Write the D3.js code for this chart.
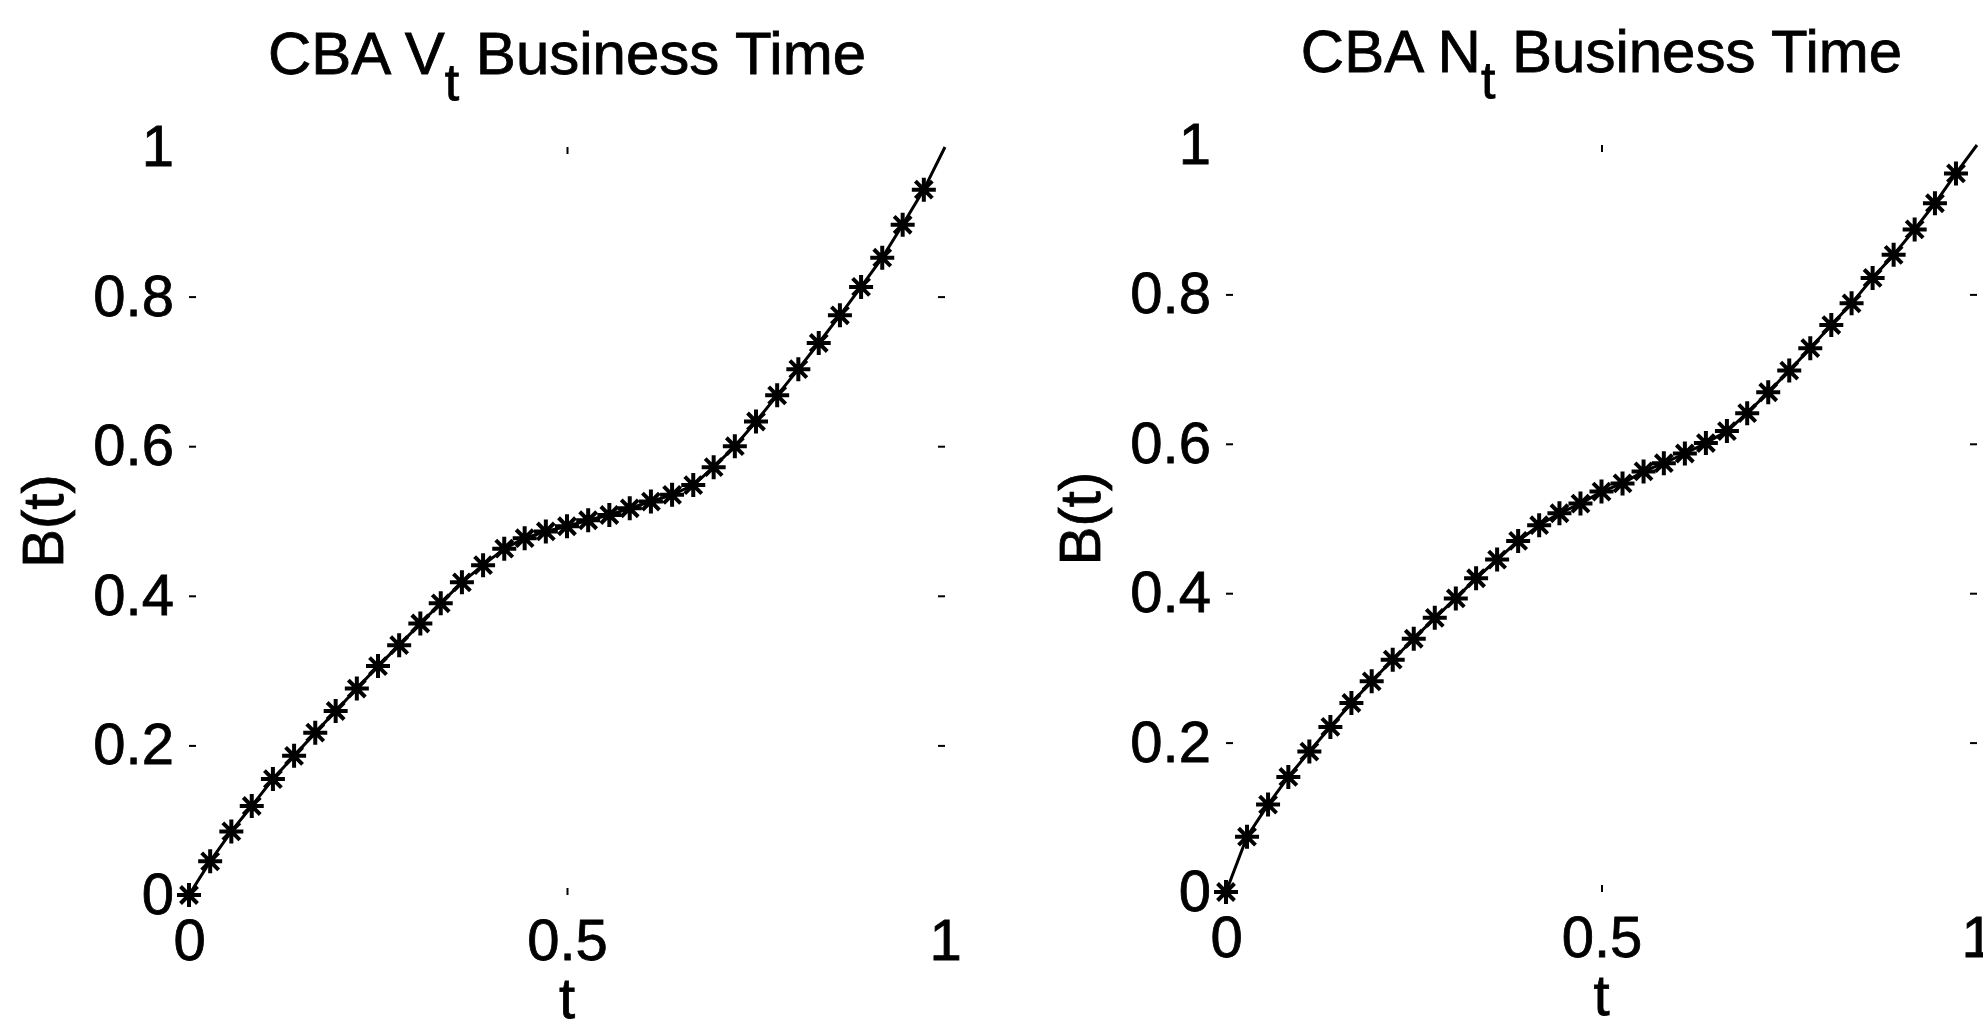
<!DOCTYPE html>
<html>
<head>
<meta charset="utf-8">
<script src="https://d3js.org/d3.v7.min.js"></script>
<style>
body {margin: 0; background: #fff;}
text {font-family: "Liberation Sans", Arial, sans-serif; fill: #000; stroke: #000; stroke-width: 0.8px;}
</style>
</head>
<body>
<svg id="chart"></svg>
<script>
var screen = {width: 1983, height: 1027};

// sample times of the two curves
var tValues = [0, 0.028, 0.056, 0.083, 0.111, 0.139, 0.167, 0.194, 0.222, 0.25,
               0.278, 0.306, 0.333, 0.361, 0.389, 0.417, 0.444, 0.472, 0.5, 0.528,
               0.556, 0.583, 0.611, 0.639, 0.667, 0.694, 0.722, 0.75, 0.778, 0.806,
               0.833, 0.861, 0.889, 0.917, 0.944, 0.972, 1];

// business time from volume (left panel)
var volumeB = [0, 0.045, 0.085, 0.119, 0.155, 0.186, 0.217, 0.246, 0.276, 0.306,
               0.334, 0.363, 0.390, 0.418, 0.441, 0.463, 0.477, 0.486, 0.493, 0.501,
               0.508, 0.517, 0.526, 0.535, 0.548, 0.572, 0.600, 0.633, 0.668, 0.703,
               0.738, 0.775, 0.813, 0.852, 0.896, 0.943, 1];

// business time from number of trades (right panel)
var tradesB = [0, 0.074, 0.117, 0.154, 0.188, 0.221, 0.253, 0.282, 0.311, 0.339,
               0.367, 0.393, 0.420, 0.445, 0.470, 0.491, 0.507, 0.520, 0.536, 0.547,
               0.563, 0.574, 0.587, 0.601, 0.617, 0.641, 0.669, 0.698, 0.728, 0.759,
               0.788, 0.822, 0.853, 0.887, 0.922, 0.962, 1];

var xTicks = [0, 0.5, 1];
var yTicks = [0, 0.2, 0.4, 0.6, 0.8, 1];

var titleNames = ["CBA V", "CBA N"];

// where each axes sits on the page
var panels = [
    {left: 189, right: 945, top: 147, bottom: 895},
    {left: 1226, right: 1977, top: 145, bottom: 892}
];

// matlab style '*' marker: a plus and a cross on top of each other
var asterisk = {
    draw: function(context, size) {
        var r = Math.sqrt(size) / 2;
        var d = r * Math.SQRT1_2;
        context.moveTo(-r, 0); context.lineTo(r, 0);
        context.moveTo(0, -r); context.lineTo(0, r);
        context.moveTo(-d, -d); context.lineTo(d, d);
        context.moveTo(-d, d); context.lineTo(d, -d);
    }
};

var svg = d3.select("#chart")
    .attr("width", screen.width)
    .attr("height", screen.height);

var styleAxis = function(g)
{
    g.select(".domain").remove();
    g.selectAll(".tick line")
        .attr("stroke", "#000")
        .attr("stroke-width", 2);
    // the corner ticks do not show in the scan
    g.selectAll(".tick")
        .filter(function(d) { return d === 0 || d === 1; })
        .select("line")
        .remove();
    g.attr("font-family", null)
        .attr("font-size", null);
    g.selectAll(".tick text")
        .style("font-size", "58px")
        .attr("fill", "#000");
};

var drawPanel = function(panel, title, values)
{
    var width = panel.right - panel.left;
    var height = panel.bottom - panel.top;

    var g = svg.append("g")
        .attr("transform", "translate(" + panel.left + "," + panel.top + ")");

    var xScale = d3.scaleLinear()
                    .domain([0, 1])
                    .range([0, width]);

    var yScale = d3.scaleLinear()
                    .domain([0, 1])
                    .range([height, 0]);

    var fmt = d3.format("~g");

    // labelled axes, ticks point inwards
    g.append("g")
        .attr("transform", "translate(0," + height + ")")
        .call(d3.axisBottom(xScale).tickValues(xTicks).tickFormat(fmt)
              .tickSizeInner(-7).tickSizeOuter(0).tickPadding(24))
        .call(styleAxis);

    g.append("g")
        .call(d3.axisLeft(yScale).tickValues(yTicks).tickFormat(fmt)
              .tickSizeInner(-7).tickSizeOuter(0).tickPadding(15))
        .call(styleAxis);

    // unlabelled ticks on top and right
    g.append("g")
        .call(d3.axisTop(xScale).tickValues(xTicks).tickFormat("")
              .tickSizeInner(-7).tickSizeOuter(0))
        .call(styleAxis);

    g.append("g")
        .attr("transform", "translate(" + width + ",0)")
        .call(d3.axisRight(yScale).tickValues(yTicks).tickFormat("")
              .tickSizeInner(-7).tickSizeOuter(0))
        .call(styleAxis);

    var points = tValues.map(function(t, i) {
        return {t: t, b: values[i]};
    });

    var line = d3.line()
        .x(function(d) { return xScale(d.t); })
        .y(function(d) { return yScale(d.b); });

    g.append("path")
        .datum(points)
        .attr("fill", "none")
        .attr("stroke", "#000")
        .attr("stroke-width", 3)
        .attr("d", line);

    // markers on every sample except the end of the line
    g.append("g")
        .selectAll("path")
        .data(points.filter(function(d) { return d.t < 1; }))
        .enter()
        .append("path")
        .attr("transform", function(d) {
            return "translate(" + xScale(d.t) + "," + yScale(d.b) + ")";
        })
        .attr("d", d3.symbol().type(asterisk).size(24 * 24))
        .attr("fill", "none")
        .attr("stroke", "#000")
        .attr("stroke-width", 4);

    // title with subscript t
    var titleText = g.append("text")
        .attr("x", width / 2)
        .attr("y", -73)
        .attr("text-anchor", "middle")
        .style("font-size", "60px");
    titleText.append("tspan").text(title);
    titleText.append("tspan")
        .attr("dy", 26)
        .style("font-size", "52px")
        .text("t");
    titleText.append("tspan")
        .attr("dy", -26)
        .text(" Business Time");

    g.append("text")
        .attr("x", width / 2)
        .attr("y", height + 123)
        .attr("text-anchor", "middle")
        .style("font-size", "58px")
        .text("t");

    g.append("text")
        .attr("transform", "rotate(-90)")
        .attr("x", -height / 2)
        .attr("y", -126)
        .attr("text-anchor", "middle")
        .style("font-size", "58px")
        .text("B(t)");
};

panels.forEach(function(panel, i) {
    drawPanel(panel, titleNames[i], i === 0 ? volumeB : tradesB);
});
</script>
</body>
</html>
